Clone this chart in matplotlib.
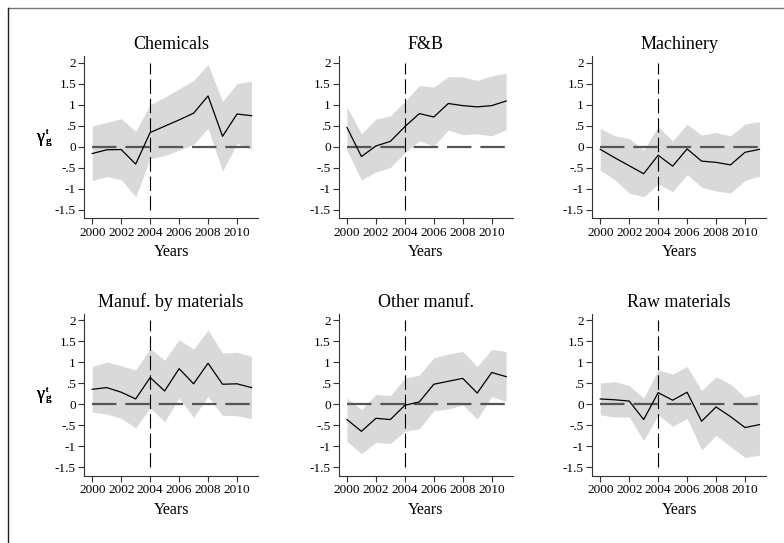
"""Event-study coefficients by sector, 2000-2011."""
import matplotlib.pyplot as plt
import numpy as np
from matplotlib.lines import Line2D

plt.rcParams["font.family"] = ["Liberation Serif", "DejaVu Serif"]

years = np.arange(2000, 2012)
sectors = ["Chemicals", "F&B", "Machinery",
           "Manuf. by materials", "Other manuf.", "Raw materials"]

chem_coef = [-0.16, -0.07, -0.065, -0.41, 0.34, 0.49, 0.64, 0.80, 1.21, 0.25, 0.78, 0.74]
chem_hi = [0.50, 0.58, 0.67, 0.37, 1.00, 1.18, 1.38, 1.58, 1.96, 1.08, 1.50, 1.56]
chem_lo = [-0.80, -0.71, -0.78, -1.19, -0.28, -0.21, -0.08, 0.06, 0.44, -0.58, 0.08, -0.06]

fb_coef = [0.46, -0.23, 0.02, 0.13, 0.48, 0.79, 0.71, 1.03, 0.98, 0.95, 0.98, 1.09]
fb_hi = [0.95, 0.31, 0.66, 0.74, 1.08, 1.46, 1.42, 1.67, 1.66, 1.58, 1.69, 1.75]
fb_lo = [-0.08, -0.79, -0.60, -0.49, -0.14, 0.14, 0.02, 0.40, 0.29, 0.31, 0.26, 0.41]

mach_coef = [-0.06, -0.26, -0.45, -0.64, -0.20, -0.46, -0.05, -0.34, -0.37, -0.43, -0.13, -0.06]
mach_hi = [0.44, 0.26, 0.20, -0.08, 0.48, 0.14, 0.54, 0.28, 0.34, 0.26, 0.54, 0.60]
mach_lo = [-0.56, -0.78, -1.10, -1.19, -0.88, -1.07, -0.66, -0.96, -1.05, -1.10, -0.80, -0.70]

mbm_coef = [0.36, 0.40, 0.29, 0.13, 0.64, 0.32, 0.85, 0.49, 0.98, 0.48, 0.49, 0.40]
mbm_hi = [0.90, 1.01, 0.92, 0.82, 1.33, 1.05, 1.54, 1.32, 1.77, 1.22, 1.24, 1.14]
mbm_lo = [-0.18, -0.23, -0.33, -0.56, -0.08, -0.41, 0.15, -0.31, 0.19, -0.26, -0.27, -0.34]

oth_coef = [-0.36, -0.64, -0.33, -0.36, -0.02, 0.06, 0.48, 0.55, 0.62, 0.27, 0.76, 0.66]
oth_hi = [0.15, -0.12, 0.24, 0.21, 0.62, 0.70, 1.11, 1.20, 1.26, 0.90, 1.31, 1.26]
oth_lo = [-0.88, -1.17, -0.90, -0.93, -0.64, -0.58, -0.15, -0.11, -0.01, -0.35, 0.19, 0.07]

raw_coef = [0.13, 0.11, 0.08, -0.36, 0.28, 0.10, 0.29, -0.40, -0.06, -0.29, -0.55, -0.48]
raw_hi = [0.51, 0.54, 0.45, 0.15, 0.82, 0.72, 0.90, 0.33, 0.66, 0.48, 0.17, 0.25]
raw_lo = [-0.25, -0.30, -0.30, -0.86, -0.25, -0.52, -0.33, -1.08, -0.74, -1.00, -1.26, -1.21]

coefs = [chem_coef, fb_coef, mach_coef, mbm_coef, oth_coef, raw_coef]
his = [chem_hi, fb_hi, mach_hi, mbm_hi, oth_hi, raw_hi]
los = [chem_lo, fb_lo, mach_lo, mbm_lo, oth_lo, raw_lo]

yticks = [2, 1.5, 1, 0.5, 0, -0.5, -1, -1.5]
ytick_labels = ["2", "1.5", "1", ".5", "0", "-.5", "-1", "-1.5"]
xticks = [2000, 2002, 2004, 2006, 2008, 2010]
treat_year = 2004

W, H = 784, 543
fig = plt.figure(figsize=(W / 100, H / 100), dpi=100)

# outer frame (top and left edges only)
fig.add_artist(Line2D([8 / W, 1], [1 - 8 / H, 1 - 8 / H], color="#777777", lw=1))
fig.add_artist(Line2D([8 / W, 8 / W], [0, 1 - 8 / H], color="#222222", lw=1))

col_left = [84.3, 339.0, 592.3]
row_top = [56.0, 313.6]
ax_w, ax_h = 173.7, 162.3
spine_col = "#333333"


def fig_xy(x_px, y_px):
    return x_px / W, 1 - y_px / H


for i, name in enumerate(sectors):
    left = col_left[i % 3]
    top = row_top[i // 3]
    ax = fig.add_axes([left / W, 1 - (top + ax_h) / H, ax_w / W, ax_h / H])

    ax.fill_between(years, los[i], his[i], color="#d9d9d9", lw=0, zorder=1)
    ax.plot([years[0], years[-1]], [0, 0], color="#555555", lw=1.6,
            ls=(0, (11, 4)), zorder=2)
    ax.plot([treat_year, treat_year], [yticks[-1], yticks[0]], color="black",
            lw=0.8, ls=(0, (13, 4.5)), zorder=3)
    ax.plot(years, coefs[i], color="black", lw=0.9, zorder=4)

    ax.set_xlim(1999.45, 2011.45)
    ax.set_ylim(-1.7, 2.16)
    ax.set_xticks(xticks)
    ax.set_yticks(yticks)
    ax.set_yticklabels(ytick_labels)
    ax.tick_params(direction="out", length=4, width=0.8, color=spine_col,
                   labelsize=9.5, pad=2)
    for side in ["top", "right"]:
        ax.spines[side].set_visible(False)
    for side in ["left", "bottom"]:
        ax.spines[side].set_color(spine_col)
        ax.spines[side].set_linewidth(0.8)

    ax.set_title(name, fontsize=13, pad=5)
    ax.set_xlabel("Years", fontsize=11.5, labelpad=4)

    # y label: gamma with superscript t and subscript g
    yc = top + ax_h / 2
    fig.text(*fig_xy(40, yc), "γ", fontsize=13, ha="center", va="center")
    fig.text(*fig_xy(47, yc - 5), "t", fontsize=6, ha="center", va="center")
    fig.text(*fig_xy(48.5, yc + 4), "g", fontsize=8, ha="center", va="center")

fig.savefig("out.png", dpi=100)
